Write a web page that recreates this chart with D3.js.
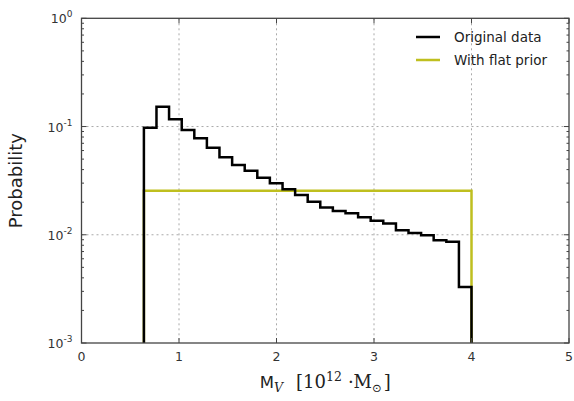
<!DOCTYPE html>
<html>
<head>
<meta charset="utf-8">
<script src="https://cdn.jsdelivr.net/npm/d3@7"></script>
<style>
  body { margin: 0; background: #fff; }
  text { font-family: "DejaVu Sans", sans-serif; }
</style>
</head>
<body>
<div id="chart"></div>
<script>
// histogram bin edges (10^12 Msun) and probabilities
var binEdges = [0.64, 0.769, 0.898, 1.028, 1.157, 1.286, 1.415, 1.545, 1.674, 1.803,
  1.932, 2.062, 2.191, 2.320, 2.449, 2.578, 2.708, 2.837, 2.966, 3.095,
  3.225, 3.354, 3.483, 3.612, 3.742, 3.871, 4.0];
var originalData = [0.0975, 0.152, 0.1166, 0.0929, 0.0778, 0.0637, 0.0519, 0.0441, 0.0391, 0.0337,
  0.0299, 0.0264, 0.0233, 0.0202, 0.0179, 0.0166, 0.0158, 0.0145, 0.0135, 0.0127,
  0.0110, 0.0104, 0.0099, 0.0089, 0.0086, 0.0033];
var flatEdges = [0.64, 4.0];
var flatPrior = [0.0255];
var xTicks = [0, 1, 2, 3, 4, 5];
var yTicks = [-3, -2, -1, 0];
var legendLabels = ["Original data", "With flat prior"];
var colors = ["#000000", "#bfbf1f"];

var W = 574, H = 401;
var margin = {top: 18.3, right: 5, bottom: 58, left: 81.5},
  width = W - margin.left - margin.right,
  height = H - margin.top - margin.bottom;

var svg = d3.select("#chart")
  .append("svg")
    .attr("width", W)
    .attr("height", H)
  .append("g")
    .attr("transform", "translate(" + margin.left + "," + margin.top + ")");

var x = d3.scaleLinear().domain([0, 5]).range([0, width]);
var y = d3.scaleLog().domain([1e-3, 1]).range([height, 0]);

// grid
svg.append("g").selectAll("line")
  .data([1, 2, 3, 4]).enter().append("line")
    .attr("x1", d => x(d)).attr("x2", d => x(d))
    .attr("y1", 0).attr("y2", height)
    .style("stroke", "#aaa").style("stroke-dasharray", "2,3").style("stroke-width", 1);
svg.append("g").selectAll("line")
  .data([1e-2, 1e-1]).enter().append("line")
    .attr("y1", d => y(d)).attr("y2", d => y(d))
    .attr("x1", 0).attr("x2", width)
    .style("stroke", "#aaa").style("stroke-dasharray", "2,3").style("stroke-width", 1);

// step histogram path
function stepPath(edges, vals) {
  var pts = [[edges[0], 1e-3]];
  vals.forEach(function(v, i) {
    pts.push([edges[i], v]);
    pts.push([edges[i + 1], v]);
  });
  pts.push([edges[edges.length - 1], 1e-3]);
  return d3.line().x(d => x(d[0])).y(d => y(d[1]))(pts);
}

svg.append("path")
  .attr("d", stepPath(flatEdges, flatPrior))
  .style("fill", "none").style("stroke", colors[1]).style("stroke-width", 2.5);
svg.append("path")
  .attr("d", stepPath(binEdges, originalData))
  .style("fill", "none").style("stroke", colors[0]).style("stroke-width", 2.5);

// frame
svg.append("rect")
  .attr("width", width).attr("height", height)
  .style("fill", "none").style("stroke", "#444").style("stroke-width", 1.3);

// x ticks (inside, bottom and top)
var xt = svg.append("g");
xTicks.forEach(function(t) {
  xt.append("line").attr("x1", x(t)).attr("x2", x(t)).attr("y1", height).attr("y2", height - 5)
    .style("stroke", "#444");
  xt.append("line").attr("x1", x(t)).attr("x2", x(t)).attr("y1", 0).attr("y2", 5)
    .style("stroke", "#444");
  xt.append("text").attr("x", x(t)).attr("y", height + 18)
    .attr("text-anchor", "middle").style("font-size", "12.5px").style("fill", "#333")
    .text(t);
});

// y ticks (major + minor, both sides)
var yt = svg.append("g");
yTicks.forEach(function(e) {
  var v = Math.pow(10, e);
  [0, width].forEach(function(side) {
    var dir = side === 0 ? 1 : -1;
    yt.append("line").attr("x1", side).attr("x2", side + dir * 5)
      .attr("y1", y(v)).attr("y2", y(v)).style("stroke", "#444");
    if (e < 0) {
      for (var m = 2; m < 10; m++) {
        yt.append("line").attr("x1", side).attr("x2", side + dir * 2.5)
          .attr("y1", y(m * v)).attr("y2", y(m * v)).style("stroke", "#444");
      }
    }
  });
  var lab = yt.append("text").attr("x", -9).attr("y", y(v) + 5)
    .attr("text-anchor", "end").style("font-size", "12.5px").style("fill", "#333");
  lab.append("tspan").text("10");
  lab.append("tspan").attr("dy", -6).style("font-size", "9px").text(e === 0 ? "0" : "-" + (-e));
});

// axis labels
svg.append("text")
  .attr("transform", "translate(" + (-60) + "," + (height / 2) + ") rotate(-90)")
  .attr("text-anchor", "middle").style("font-size", "18px").style("fill", "#222")
  .text("Probability");

var serif = "'DejaVu Serif', serif";
var xl = svg.append("text")
  .attr("x", width / 2).attr("y", height + 45)
  .attr("text-anchor", "middle").style("font-size", "18px").style("fill", "#222");
xl.append("tspan").style("font-size", "16.5px").text("M");
xl.append("tspan").attr("dy", 4).style("font-family", serif).style("font-style", "italic")
  .style("font-size", "12.5px").text("V");
xl.append("tspan").attr("dy", -4).attr("dx", 13).style("font-family", serif).text("[10");
xl.append("tspan").attr("dy", -7).style("font-family", serif).style("font-size", "12.5px").text("12");
xl.append("tspan").attr("dy", 7).attr("dx", 6).style("font-family", serif).text("\u00b7M");
xl.append("tspan").attr("dy", 4).style("font-family", "'DejaVu Sans', sans-serif").style("font-size", "11.5px").text("\u2299");
xl.append("tspan").attr("dy", -4).attr("dx", 2).style("font-family", serif).text("]");

// legend
var lg = svg.append("g").attr("transform", "translate(" + (416 - margin.left) + "," + (37 - margin.top) + ")");
legendLabels.forEach(function(l, i) {
  lg.append("line").attr("x1", 0).attr("x2", 24).attr("y1", i * 23).attr("y2", i * 23)
    .style("stroke", colors[i]).style("stroke-width", 2.5);
  lg.append("text").attr("x", 38).attr("y", i * 23 + 5)
    .style("font-size", "13.5px").style("fill", "#222").text(l);
});
</script>
</body>
</html>
